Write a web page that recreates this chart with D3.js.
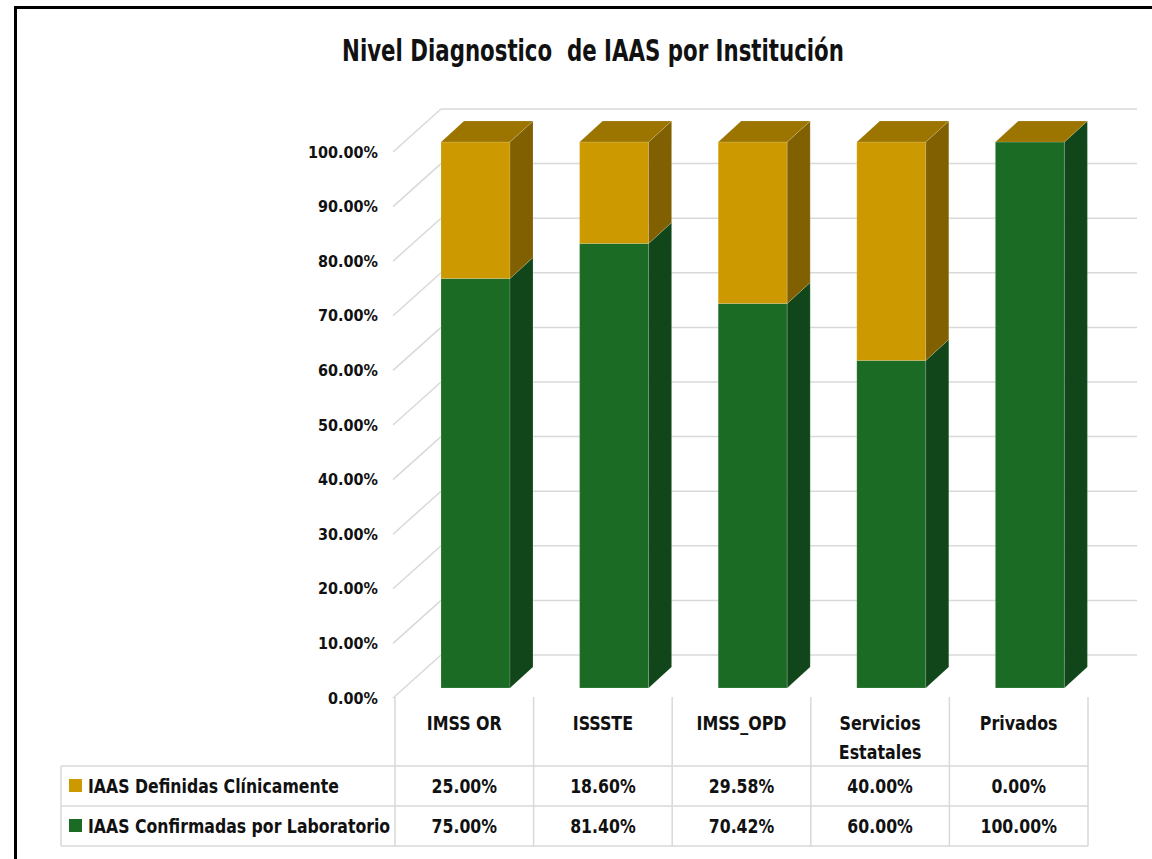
<!DOCTYPE html>
<html>
<head>
<meta charset="utf-8">
<script src="https://cdn.jsdelivr.net/npm/d3@7"></script>
<style>
  html, body { margin: 0; padding: 0; background: #fff; }
  svg text { font-family: "DejaVu Sans", sans-serif; font-stretch: condensed; font-weight: bold; fill: #111; }
</style>
</head>
<body>
<div id="chart"></div>
<script>
var categories = ["IMSS OR", "ISSSTE", "IMSS_OPD", "Servicios Estatales", "Privados"];
var definidas = [25.00, 18.60, 29.58, 40.00, 0.00];
var confirmadas = [75.00, 81.40, 70.42, 60.00, 100.00];
var seriesNames = ["IAAS Definidas Clínicamente", "IAAS Confirmadas por Laboratorio"];
var yTicks = [0, 10, 20, 30, 40, 50, 60, 70, 80, 90, 100];

var width = 1152, height = 859;
var gridc = '#d9d9d9';
var yellow = {front: '#cc9900', side: '#806000', top: '#9c7500'};
var green  = {front: '#1b6b25', side: '#11461a', top: '#145a1e'};

// depth of side wall and of the bars
var wdx = 48, wdy = -43;
var bdx = 23, bdy = -21;
var bshift = -10;   // bars sit a bit behind the front edge

// narrow the fallback font a bit more to look like the original
function squeeze(sel, k){
  sel.each(function(){
    var t = d3.select(this);
    var tx = +t.attr('x') || 0;
    t.attr('x', 0).attr('transform', 'translate(' + tx + ',0) scale(' + k + ',1)');
  });
}

var svg = d3.select('#chart').append('svg')
  .attr('width', width)
  .attr('height', height);

// frame
svg.append('rect')
  .attr('x', 15.5).attr('y', 7.5)
  .attr('width', 1200).attr('height', 900)
  .attr('fill', 'none')
  .attr('stroke', '#000')
  .attr('stroke-width', 3);

svg.append('text')
  .attr('x', 593).attr('y', 61)
  .attr('text-anchor', 'middle')
  .style('font-size', '30px')
  .style('white-space', 'pre')
  .text('Nivel Diagnostico  de IAAS por Institución')
  .call(squeeze, 0.79);

var x = d3.scaleBand()
  .domain(categories)
  .range([395, 1088]);

var y = d3.scaleLinear()
  .domain([0, 100])
  .range([698, 152]);

// gridlines: side wall diagonals + back wall
var grid = svg.append('g');
yTicks.forEach(function(t){
  grid.append('line')
    .attr('x1', 393).attr('y1', y(t))
    .attr('x2', 393 + wdx).attr('y2', y(t) + wdy)
    .attr('stroke', gridc).attr('stroke-width', 1.5);
  grid.append('line')
    .attr('x1', 393 + wdx).attr('y1', y(t) + wdy)
    .attr('x2', x.range()[1] + wdx + 1).attr('y2', y(t) + wdy)
    .attr('stroke', gridc).attr('stroke-width', 1.5);
});

var yAxis = d3.axisLeft(y)
  .tickValues(yTicks)
  .tickSize(0)
  .tickPadding(0)
  .tickFormat(function(d){ return d3.format('.2f')(d) + '%'; });

svg.append('g')
  .attr('transform', 'translate(378,0)')
  .call(yAxis)
  .call(function(g){ g.select('.domain').remove(); })
  .selectAll('text')
  .style('font-size', '16px')
  .attr('fill', null);
svg.selectAll('.tick text').style('font-family', null);

// 3D stacked columns
var bx = 46, bw = 69;

function face(g, pts, color){
  g.append('polygon')
    .attr('points', pts.map(function(p){ return p.join(','); }).join(' '))
    .attr('fill', color)
    .attr('stroke', 'rgba(255,255,255,0.25)')
    .attr('stroke-width', 0.6);
}

var bars = svg.append('g');
categories.forEach(function(c, i){
  var x0 = x(c) + bx, x1 = x0 + bw;
  var segs = [
    {lo: 0, hi: confirmadas[i], col: green},
    {lo: confirmadas[i], hi: confirmadas[i] + definidas[i], col: yellow}
  ];
  segs.forEach(function(s){
    var ylo = y(s.lo) + bshift, yhi = y(s.hi) + bshift;
    if (ylo - yhi > 0) {
      face(bars, [[x0, yhi], [x1, yhi], [x1, ylo], [x0, ylo]], s.col.front);
      face(bars, [[x1, yhi], [x1 + bdx, yhi + bdy], [x1 + bdx, ylo + bdy], [x1, ylo]], s.col.side);
    }
  });
  var ytop = y(confirmadas[i] + definidas[i]) + bshift;
  face(bars, [[x0, ytop], [x0 + bdx, ytop + bdy], [x1 + bdx, ytop + bdy], [x1, ytop]], yellow.top);
});

// data table
var rowTop = 766, rowH = 40, tLeft = 61, tRight = x.range()[1];
var table = svg.append('g');
var lineAttr = function(sel){ sel.attr('stroke', gridc).attr('stroke-width', 1.5); };

// header verticals
x.domain().forEach(function(c){
  table.append('line').attr('x1', x(c)).attr('x2', x(c)).attr('y1', 697).attr('y2', rowTop + 2 * rowH).call(lineAttr);
});
table.append('line').attr('x1', tRight).attr('x2', tRight).attr('y1', 697).attr('y2', rowTop + 2 * rowH).call(lineAttr);
table.append('line').attr('x1', tLeft).attr('x2', tLeft).attr('y1', rowTop).attr('y2', rowTop + 2 * rowH).call(lineAttr);
[0, 1, 2].forEach(function(r){
  table.append('line').attr('x1', tLeft).attr('x2', tRight).attr('y1', rowTop + r * rowH).attr('y2', rowTop + r * rowH).call(lineAttr);
});

// category labels, wrapped into lines that fit the column
categories.forEach(function(c){
  var cx = x(c) + x.bandwidth() / 2;
  var words = c.split(' '), lines = [], line = [];
  var probe = table.append('text').style('font-size', '19px');
  words.forEach(function(w){
    line.push(w);
    probe.text(line.join(' '));
    if (probe.node().getComputedTextLength() * 0.93 > x.bandwidth() - 24 && line.length > 1) {
      line.pop();
      lines.push(line.join(' '));
      line = [w];
    }
  });
  lines.push(line.join(' '));
  probe.remove();
  lines.forEach(function(l, j){
    table.append('text')
      .attr('x', cx)
      .attr('y', 730 + j * 29)
      .attr('text-anchor', 'middle')
      .style('font-size', '19px')
      .text(l)
      .call(squeeze, 0.93);
  });
});

var rows = [
  {name: seriesNames[0], vals: definidas, col: yellow.front},
  {name: seriesNames[1], vals: confirmadas, col: green.front}
];
rows.forEach(function(r, k){
  var cy = rowTop + k * rowH + rowH / 2;
  table.append('rect')
    .attr('x', 69).attr('y', cy - 7)
    .attr('width', 13).attr('height', 13)
    .attr('fill', r.col);
  table.append('text')
    .attr('x', 88).attr('y', cy + 7)
    .style('font-size', '19px')
    .text(r.name)
    .call(squeeze, 0.92);
  categories.forEach(function(c, i){
    table.append('text')
      .attr('x', x(c) + x.bandwidth() / 2)
      .attr('y', cy + 7)
      .attr('text-anchor', 'middle')
      .style('font-size', '19px')
      .text(d3.format('.2f')(r.vals[i]) + '%')
      .call(squeeze, 0.92);
  });
});
</script>
</body>
</html>
